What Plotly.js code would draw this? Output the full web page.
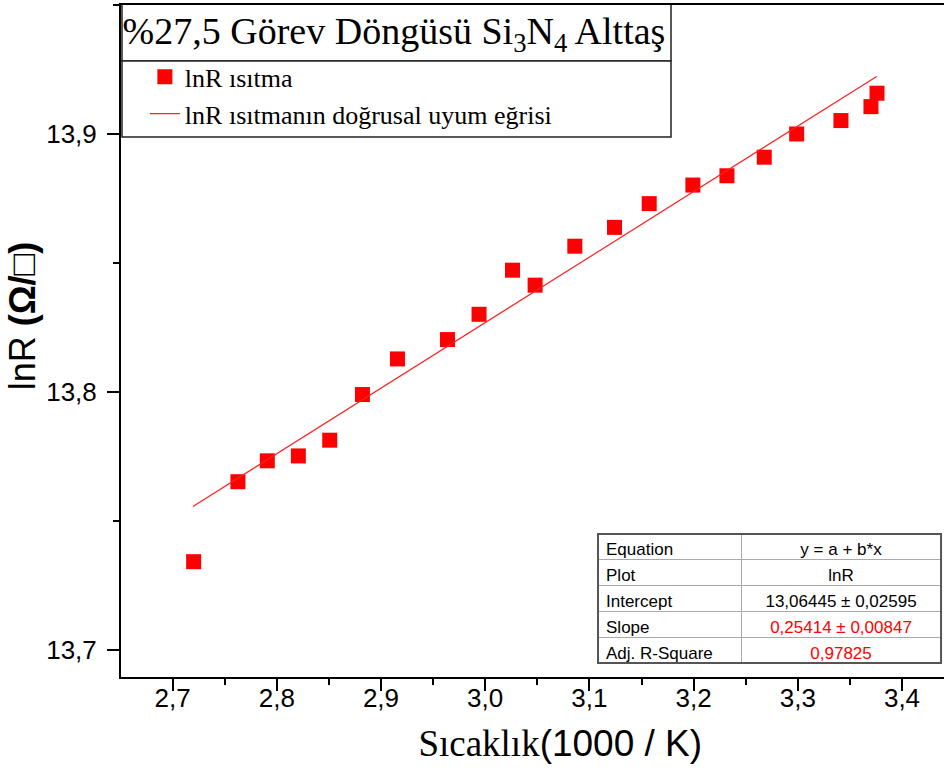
<!DOCTYPE html>
<html>
<head>
<meta charset="utf-8">
<script src="https://cdn.plot.ly/plotly-3.0.1.min.js"></script>
<style>html,body{margin:0;padding:0;background:#fff;}#chart{width:944px;height:772px;}</style>
</head>
<body>
<div id="chart"></div>
<script>
// Measured data (1000/K vs lnR)
const xVals = [2.7202, 2.7627, 2.7909, 2.8207, 2.8508, 2.8822, 2.9158, 2.9638, 2.9941, 3.0262, 3.0479,
               3.0860, 3.1241, 3.1574, 3.1993, 3.2320, 3.2678, 3.2989, 3.3414, 3.3702, 3.3760];
const yVals = [13.7342, 13.7652, 13.7733, 13.7752, 13.7813, 13.7990, 13.8128, 13.8203, 13.8301, 13.8472, 13.8414,
               13.8565, 13.8638, 13.8730, 13.8802, 13.8838, 13.8910, 13.9000, 13.9052, 13.9106, 13.9158];
// Linear fit line endpoints
const fitX = [2.7195, 3.3757];
const fitY = [13.7556, 13.9223];
// Fit table
const tableLabels = ['Equation', 'Plot', 'Intercept', 'Slope', 'Adj. R-Square'];
const tableValues = ['y = a + b*x', 'lnR', '13,06445 ± 0,02595', '0,25414 ± 0,00847', '0,97825'];
const tableValueColors = ['black', 'black', 'black', '#ff0000', '#ff0000'];
const xTickFormat = '.1f';
const yTickFormat = '.1f';

const traces = [
  {
    type: 'scatter', mode: 'markers', x: xVals, y: yVals, name: 'lnR ısıtma',
    marker: {symbol: 'square', size: 15, color: '#ff0000', line: {width: 0}}
  },
  {
    type: 'scatter', mode: 'lines', x: fitX, y: fitY, name: 'lnR ısıtmanın doğrusal uyum eğrisi',
    line: {color: '#ff2020', width: 1.2}
  },
  {
    type: 'table',
    domain: {x: [0.5796, 0.9964], y: [0.018, 0.2128]},
    columnwidth: [143, 200],
    header: {
      values: [[tableLabels[0]], [tableValues[0]]],
      align: ['left', 'center'], height: 26,
      fill: {color: 'white'}, line: {color: '#aaaaaa', width: 1},
      font: {family: 'Liberation Sans, Arial', size: 17, color: 'black'}
    },
    cells: {
      values: [tableLabels.slice(1), tableValues.slice(1)],
      align: ['left', 'center'], height: 26,
      fill: {color: 'white'}, line: {color: '#aaaaaa', width: 1},
      font: {family: 'Liberation Sans, Arial', size: 17,
             color: [tableLabels.slice(1).map(() => 'black'), tableValueColors.slice(1)]}
    }
  }
];

const axisFont = {family: 'Liberation Sans, Arial', size: 26, color: 'black'};

const layout = {
  width: 944, height: 772,
  margin: {l: 121, r: 0, t: 5, b: 95, pad: 0},
  paper_bgcolor: 'white', plot_bgcolor: 'white',
  separators: ',.',
  showlegend: true,
  title: {
    text: '%27,5 Görev Döngüsü Si<sub>3</sub>N<sub>4</sub> Alttaş',
    font: {family: 'Liberation Serif, Times New Roman', size: 38, color: 'black'},
    xref: 'container', yref: 'container', x: 394 / 944, xanchor: 'center', y: 1 - 31 / 772, yanchor: 'middle'
  },
  xaxis: {
    range: [2.6505, 3.4403], tick0: 2.7, dtick: 0.1, tickformat: xTickFormat,
    ticks: 'outside', ticklen: 12, tickwidth: 2, tickcolor: 'black',
    showline: true, linewidth: 2, linecolor: 'black', mirror: true,
    showgrid: false, zeroline: false, tickfont: axisFont, ticklabelstandoff: -15,
    minor: {dtick: 0.05, tick0: 2.7, ticks: 'outside', ticklen: 6, tickwidth: 2, tickcolor: 'black', showgrid: false},
    title: {
      text: '<span style="font-family:Liberation Serif">&nbsp;&nbsp;&nbsp;&nbsp;&nbsp;&nbsp;Sıcaklık</span>(1000 / K)',
      font: {family: 'Liberation Sans, Arial', size: 37, color: 'black'}, standoff: 18
    }
  },
  yaxis: {
    range: [13.6895, 13.95], tick0: 13.7, dtick: 0.1, tickformat: yTickFormat,
    ticks: 'outside', ticklen: 12, tickwidth: 2, tickcolor: 'black',
    showline: true, linewidth: 2, linecolor: 'black',
    showgrid: false, zeroline: false, tickfont: axisFont, ticklabelstandoff: 5,
    minor: {dtick: 0.05, tick0: 13.7, ticks: 'outside', ticklen: 6, tickwidth: 2, tickcolor: 'black', showgrid: false},
    title: {
      text: '&nbsp;&nbsp;&nbsp;&nbsp;&nbsp;lnR <b>(Ω/□)</b>',
      font: {family: 'Liberation Sans, Arial', size: 36, color: 'black'}, standoff: 0
    }
  },
  legend: {
    x: 0.029, y: 0.928, xanchor: 'left', yanchor: 'top',
    bgcolor: 'rgba(0,0,0,0)', borderwidth: 0,
    font: {family: 'Liberation Serif, Times New Roman', size: 26, color: 'black'},
    itemwidth: 30
  },
  shapes: [
    {type: 'rect', xref: 'paper', yref: 'paper', x0: 0.0012, x1: 0.6683, y0: 0.9167, y1: 1.0015,
     line: {color: '#222', width: 1.5}, fillcolor: 'white', layer: 'below'},
    {type: 'rect', xref: 'paper', yref: 'paper', x0: 0.0012, x1: 0.6683, y0: 0.8036, y1: 0.9167,
     line: {color: '#222', width: 1.5}, fillcolor: 'white', layer: 'below'},
    {type: 'rect', xref: 'paper', yref: 'paper', x0: 0.5796, x1: 0.9964, y0: 0.0208, y1: 0.2128,
     line: {color: '#555', width: 2}, fillcolor: 'rgba(0,0,0,0)', layer: 'above'}
  ]
};

Plotly.newPlot('chart', traces, layout, {staticPlot: true, displayModeBar: false});
</script>
</body>
</html>
